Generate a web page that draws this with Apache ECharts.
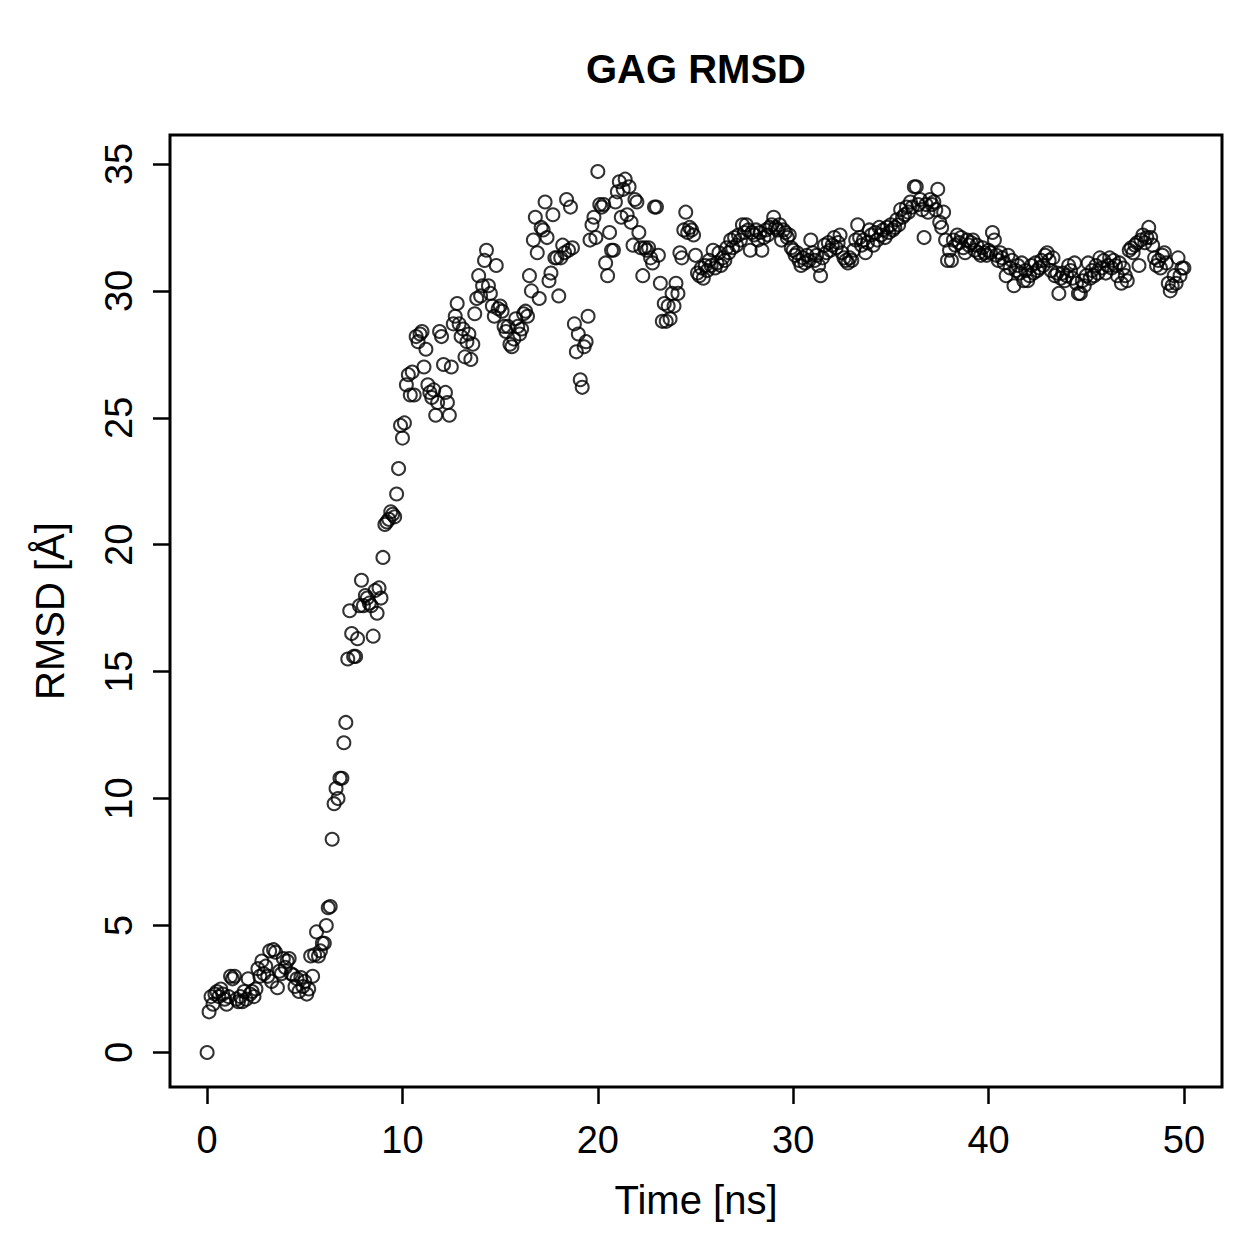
<!DOCTYPE html>
<html><head><meta charset="utf-8">
<script src="https://cdn.jsdelivr.net/npm/echarts@6/dist/echarts.min.js"></script>
<style>html,body{margin:0;padding:0;background:#fff}#c{width:1259px;height:1259px}</style>
</head><body><div id="c"></div>
<script>
const TITLE = 'GAG RMSD';
const X_NAME = 'Time [ns]';
const Y_NAME = 'RMSD [Å]';
const X_TICKS = [0, 10, 20, 30, 40, 50];
const Y_TICKS = [0, 5, 10, 15, 20, 25, 30, 35];
const TIME_START_NS = 0;
const TIME_STEP_NS = 0.1;

// RMSD values (Å), one per 0.1 ns frame
const rmsd_00_10 = [
  0.0, 1.6, 2.2, 1.9, 2.3, 2.4, 2.2, 2.5, 2.3, 2.1,
  1.9, 2.2, 3.0, 2.9, 3.0, 2.1, 2.0, 2.2, 2.0, 2.4,
  2.1, 2.9, 2.3, 2.4, 2.2, 2.5, 3.3, 3.0, 3.6, 3.1,
  3.4, 3.0, 4.0, 2.8, 4.05, 3.95, 2.55, 3.2, 3.1, 3.7,
  3.35, 3.6, 3.7, 3.1, 3.05, 2.6, 2.9, 2.4, 2.95, 2.6,
  2.8, 2.3, 2.5, 3.8, 3.0, 3.85, 4.75, 3.8, 4.0, 4.3,
  4.3, 5.0, 5.7, 5.75, 8.4, 9.8, 10.4, 10.0, 10.8, 10.8,
  12.2, 13.0, 15.5, 17.4, 16.5, 15.6, 15.6, 16.3, 17.6, 18.6,
  17.6, 18.0, 17.9, 17.7, 17.6, 16.4, 18.2, 17.3, 18.3, 17.9,
  19.5, 20.8, 20.9, 21.0, 21.3, 21.2, 21.1, 22.0, 23.0, 24.7
];
const rmsd_10_20 = [
  24.2, 24.8, 26.3, 26.7, 25.9, 26.8, 25.9, 28.2, 28.0, 28.3,
  28.4, 27.0, 27.7, 26.3, 26.0, 25.8, 26.1, 25.1, 25.6, 28.4,
  28.2, 27.1, 26.0, 25.6, 25.1, 27.0, 28.7, 29.0, 29.5, 28.7,
  28.2, 28.5, 27.4, 28.0, 28.3, 27.3, 27.9, 29.1, 29.7, 30.6,
  29.8, 30.2, 31.2, 31.6, 30.2, 29.9, 29.4, 29.0, 31.0, 29.3,
  29.4, 29.2, 28.6, 28.4, 28.6, 27.9, 27.8, 28.1, 28.9, 28.6,
  28.3, 28.5, 29.1, 29.2, 29.0, 30.6, 30.0, 32.0, 32.9, 31.5,
  29.7, 32.5, 32.4, 33.5, 32.1, 30.4, 30.7, 33.0, 31.3, 31.3,
  29.8, 31.3, 31.8, 31.5, 33.6, 31.6, 33.3, 31.7, 28.7, 27.6,
  28.3, 26.5, 26.2, 27.8, 28.0, 29.0, 32.0, 32.6, 32.9, 32.1
];
const rmsd_20_30 = [
  34.7, 33.4, 33.3, 33.4, 31.1, 30.6, 32.3, 31.6, 31.6, 33.5,
  33.9, 34.3, 32.9, 34.0, 34.4, 33.0, 34.1, 32.7, 31.8, 33.6,
  33.5, 32.3, 31.7, 30.6, 31.7, 31.6, 31.7, 31.3, 31.1, 33.3,
  33.3, 31.4, 30.3, 28.8, 29.5, 28.8, 29.4, 28.9, 29.9, 29.4,
  30.3, 29.9, 31.5, 31.3, 32.4, 33.1, 32.3, 32.5, 32.4, 32.2,
  31.4, 30.7, 30.6, 30.9, 30.5, 31.0, 30.8, 31.2, 31.0, 31.6,
  30.9, 31.1, 31.5, 31.0, 31.3, 31.2, 31.7, 31.5, 32.0, 31.7,
  32.1, 31.8, 32.2, 32.0, 32.6, 32.3, 32.6, 32.4, 31.6, 32.3,
  32.2, 32.4, 32.0, 32.3, 31.6, 32.1, 32.4, 32.2, 32.5, 32.6,
  32.9, 32.5, 32.4, 32.6, 32.0, 32.4, 32.3, 32.1, 32.2, 31.7
];
const rmsd_30_40 = [
  31.6, 31.4, 31.5, 31.2, 31.0, 31.3, 31.1, 31.4, 31.2, 32.0,
  31.5, 31.2, 31.4, 31.0, 30.6, 31.3, 31.8, 31.5, 31.9, 31.6,
  31.8, 32.1, 31.7, 31.9, 32.2, 31.5, 31.3, 31.2, 31.1, 31.3,
  31.2, 31.6, 32.0, 32.6, 32.1, 31.8, 32.0, 31.5, 31.9, 32.4,
  32.2, 31.8, 32.3, 32.0, 32.5, 32.2, 32.4, 32.1, 32.5, 32.3,
  32.6, 32.4, 32.5, 32.8, 32.6, 33.2, 32.9, 33.0, 33.3, 33.1,
  33.5, 33.3, 34.1, 34.1, 33.4, 33.6, 33.2, 32.1, 33.4, 33.1,
  33.6, 33.4, 33.5, 33.2, 34.0, 32.7, 32.5, 33.1, 32.0, 31.2,
  31.6, 31.2, 32.0, 31.8, 32.2, 31.9, 32.1, 31.7, 31.5, 32.0,
  31.8, 31.9, 32.0, 31.6, 31.8, 31.5, 31.4, 31.7, 31.5, 31.4
];
const rmsd_40_50 = [
  31.6, 31.5, 32.3, 32.0, 31.4, 31.2, 31.5, 31.3, 31.1, 30.6,
  31.4, 30.9, 31.2, 30.2, 30.8, 31.0, 30.7, 31.1, 30.4, 30.8,
  30.4, 30.6, 31.0, 30.7, 31.1, 30.8, 30.9, 31.2, 31.0, 31.4,
  31.5, 31.2, 30.8, 31.3, 30.6, 30.7, 29.9, 30.5, 30.7, 30.4,
  30.6, 31.0, 30.8, 30.5, 31.1, 30.3, 29.9, 29.9, 30.4, 30.2,
  30.6, 31.1, 30.5, 30.8, 30.6, 31.0, 30.7, 31.3, 30.9, 31.2,
  30.7, 31.0, 31.3, 30.9, 31.2, 31.0, 30.6, 31.1, 30.3, 30.9,
  30.6, 30.4, 31.6, 31.7, 31.5, 31.8, 31.9, 31.0, 32.0, 32.2,
  31.9, 32.1, 32.5, 32.1, 31.8, 31.3, 31.0, 31.2, 30.9, 31.4,
  31.5, 31.1, 30.3, 30.0, 30.2, 30.6, 30.3, 31.3, 30.6, 30.9,
  30.9
];

const rmsd = [].concat(rmsd_00_10, rmsd_10_20, rmsd_20_30, rmsd_30_40, rmsd_40_50);
const points = rmsd.map((v, i) => [+(TIME_START_NS + i * TIME_STEP_NS).toFixed(1), v]);

const FONT = '"Liberation Sans", Arial, Helvetica, sans-serif';
const chart = echarts.init(document.getElementById('c'), null, { renderer: 'svg' });
chart.setOption({
  animation: false,
  backgroundColor: '#fff',
  graphic: [{
    type: 'text',
    x: 696, y: 69,
    style: {
      text: TITLE, fill: '#000', fontSize: 40, fontWeight: 'bold', fontFamily: FONT,
      align: 'center', verticalAlign: 'middle'
    }
  }],
  grid: {
    left: 170, top: 135, width: 1052, height: 952,
    show: true, borderColor: '#000', borderWidth: 3, backgroundColor: 'transparent'
  },
  xAxis: {
    type: 'value', min: -1.9, max: 51.95,
    name: X_NAME, nameLocation: 'middle', nameGap: 93,
    nameTextStyle: { fontSize: 40, color: '#000', fontFamily: FONT },
    axisLine: { show: false, onZero: false },
    splitLine: { show: false },
    axisTick: { show: true, length: 17, customValues: X_TICKS, lineStyle: { color: '#000', width: 2.5 } },
    axisLabel: { customValues: X_TICKS, fontSize: 38, color: '#000', fontFamily: FONT, margin: 34 }
  },
  yAxis: {
    type: 'value', min: -1.36, max: 36.14,
    name: Y_NAME, nameLocation: 'middle', nameGap: 100, nameRotate: 90,
    nameTextStyle: { fontSize: 40, color: '#000', fontFamily: FONT },
    axisLine: { show: false, onZero: false },
    splitLine: { show: false },
    axisTick: { show: true, length: 17, customValues: Y_TICKS, lineStyle: { color: '#000', width: 2.5 } },
    axisLabel: { customValues: Y_TICKS, rotate: 90, fontSize: 38, color: '#000', fontFamily: FONT, margin: 32 }
  },
  series: [{
    type: 'scatter',
    data: points,
    symbol: 'circle',
    symbolSize: 13,
    itemStyle: { color: 'rgba(0,0,0,0)', borderColor: '#000', borderWidth: 2 },
    emphasis: { disabled: true },
    silent: true
  }]
});
</script>
</body></html>
